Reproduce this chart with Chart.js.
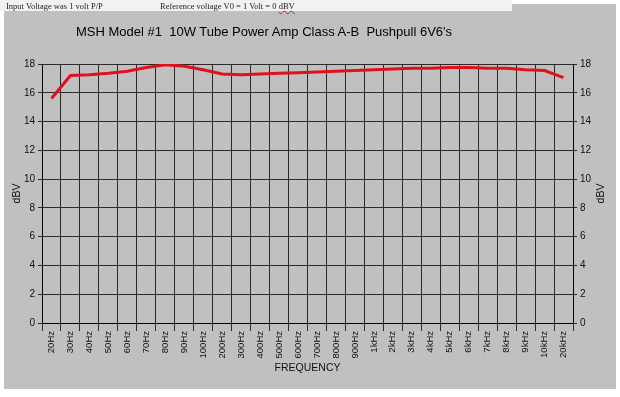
<!DOCTYPE html>
<html>
<head>
<meta charset="utf-8">
<script src="https://cdn.jsdelivr.net/npm/chart.js@4"></script>
<style>
  html, body { margin: 0; padding: 0; background: #fff; }
  #wrap { position: relative; width: 620px; height: 397px; }
  canvas { position: absolute; left: 0; top: 0; }
  .note { position: absolute; top: 1px; font: 8.5px "Liberation Serif", "Times New Roman", serif; color: #222; white-space: pre; }
  .squiggle { text-decoration: underline wavy #d02020; }
  #title { position: absolute; left: 76px; top: 24px; font: 13px "Liberation Sans", Arial, sans-serif; color: #000; white-space: pre; }
</style>
</head>
<body>
<div id="wrap">
  <canvas id="chartContainer" width="620" height="397"></canvas>
  <div class="note" style="left:6px">Input Voltage was 1 volt P/P</div>
  <div class="note" style="left:160px">Reference voltage V0 = 1 Volt = 0 <span class="squiggle">dBV</span></div>
  <div id="title">MSH Model #1  10W Tube Power Amp Class A-B  Pushpull 6V6's</div>
</div>
<script>
// données
var freqLabels = ['20Hz', '30Hz', '40Hz', '50Hz', '60Hz', '70Hz', '80Hz', '90Hz',
    '100Hz', '200Hz', '300Hz', '400Hz', '500Hz', '600Hz', '700Hz', '800Hz', '900Hz',
    '1kHz', '2kHz', '3kHz', '4kHz', '5kHz', '6kHz', '7kHz', '8kHz', '9kHz', '10kHz', '20kHz'];
var dbvValues = [15.6, 17.2, 17.25, 17.35, 17.5, 17.75, 17.95, 17.85,
    17.6, 17.3, 17.25, 17.3, 17.35, 17.4, 17.45, 17.5, 17.55,
    17.6, 17.65, 17.7, 17.7, 17.75, 17.75, 17.7, 17.7, 17.6, 17.55, 17.05];
var dbvTicks = [0, 2, 4, 6, 8, 10, 12, 14, 16, 18];

var gridColor = '#2a2a2a';
var textColor = '#111';

// fond gris style Excel + bandeau clair pour les notes du haut
var backgroundPlugin = {
    id: 'background',
    beforeDraw: function(chart) {
        var c = chart.ctx;
        c.save();
        c.fillStyle = '#fff';
        c.fillRect(0, 0, 620, 397);
        c.fillStyle = '#c0c0c0';
        c.fillRect(4, 4, 612, 385);
        c.fillStyle = '#f2f2f2';
        c.fillRect(0, 0, 512, 11);
        c.restore();
    }
};

// titre de l'axe de droite, lu de bas en haut comme celui de gauche
var rightTitlePlugin = {
    id: 'rightTitle',
    afterDraw: function(chart) {
        var c = chart.ctx;
        var area = chart.chartArea;
        c.save();
        c.translate(601, (area.top + area.bottom) / 2);
        c.rotate(-Math.PI / 2);
        c.font = '10.5px "Liberation Sans", Arial, sans-serif';
        c.fillStyle = textColor;
        c.textAlign = 'center';
        c.textBaseline = 'middle';
        c.fillText('dBV', 0, 0);
        c.restore();
    }
};

var ctx = document.getElementById('chartContainer').getContext('2d');
ctx.chart = new Chart(ctx, {
    type: 'line',
    data: {
        labels: freqLabels,
        datasets: [{
            label: 'dBV',
            data: dbvValues,
            borderColor: '#e0101c',
            borderWidth: 3,
            pointRadius: 0,
            tension: 0,
            yAxisID: 'y'
        }]
    },
    options: {
        responsive: false,
        animation: false,
        devicePixelRatio: 1,
        layout: { padding: { top: 64, left: 0, right: 0, bottom: 0 } },
        plugins: {
            legend: { display: false },
            tooltip: { enabled: false }
        },
        scales: {
            x: {
                offset: true,
                grid: { offset: true, color: gridColor, tickLength: 8 },
                border: { color: '#000' },
                ticks: {
                    autoSkip: false,
                    minRotation: 90,
                    maxRotation: 90,
                    padding: 0,
                    color: textColor,
                    font: { family: '"Liberation Sans", Arial, sans-serif', size: 9.5 }
                },
                title: {
                    display: true,
                    text: 'FREQUENCY',
                    color: textColor,
                    padding: { top: 0, bottom: 23 },
                    font: { family: '"Liberation Sans", Arial, sans-serif', size: 10.5 }
                },
                afterFit: function(s) { s.height = 74; }
            },
            y: {
                position: 'left',
                min: dbvTicks[0],
                max: dbvTicks[dbvTicks.length - 1],
                ticks: {
                    stepSize: 2,
                    padding: 3,
                    color: textColor,
                    font: { family: '"Liberation Sans", Arial, sans-serif', size: 10 }
                },
                grid: { color: gridColor, tickLength: 4 },
                border: { color: '#000' },
                title: {
                    display: true,
                    text: 'dBV',
                    color: textColor,
                    padding: { top: 11, bottom: 0 },
                    font: { family: '"Liberation Sans", Arial, sans-serif', size: 10.5 }
                },
                afterFit: function(s) { s.width = 42; }
            },
            y2: {
                position: 'right',
                min: dbvTicks[0],
                max: dbvTicks[dbvTicks.length - 1],
                ticks: {
                    stepSize: 2,
                    padding: 3,
                    color: textColor,
                    font: { family: '"Liberation Sans", Arial, sans-serif', size: 10 }
                },
                grid: { drawOnChartArea: false, color: gridColor, tickLength: 4 },
                border: { color: '#000' },
                afterFit: function(s) { s.width = 47; }
            }
        }
    },
    plugins: [backgroundPlugin, rightTitlePlugin]
});
</script>
</body>
</html>
